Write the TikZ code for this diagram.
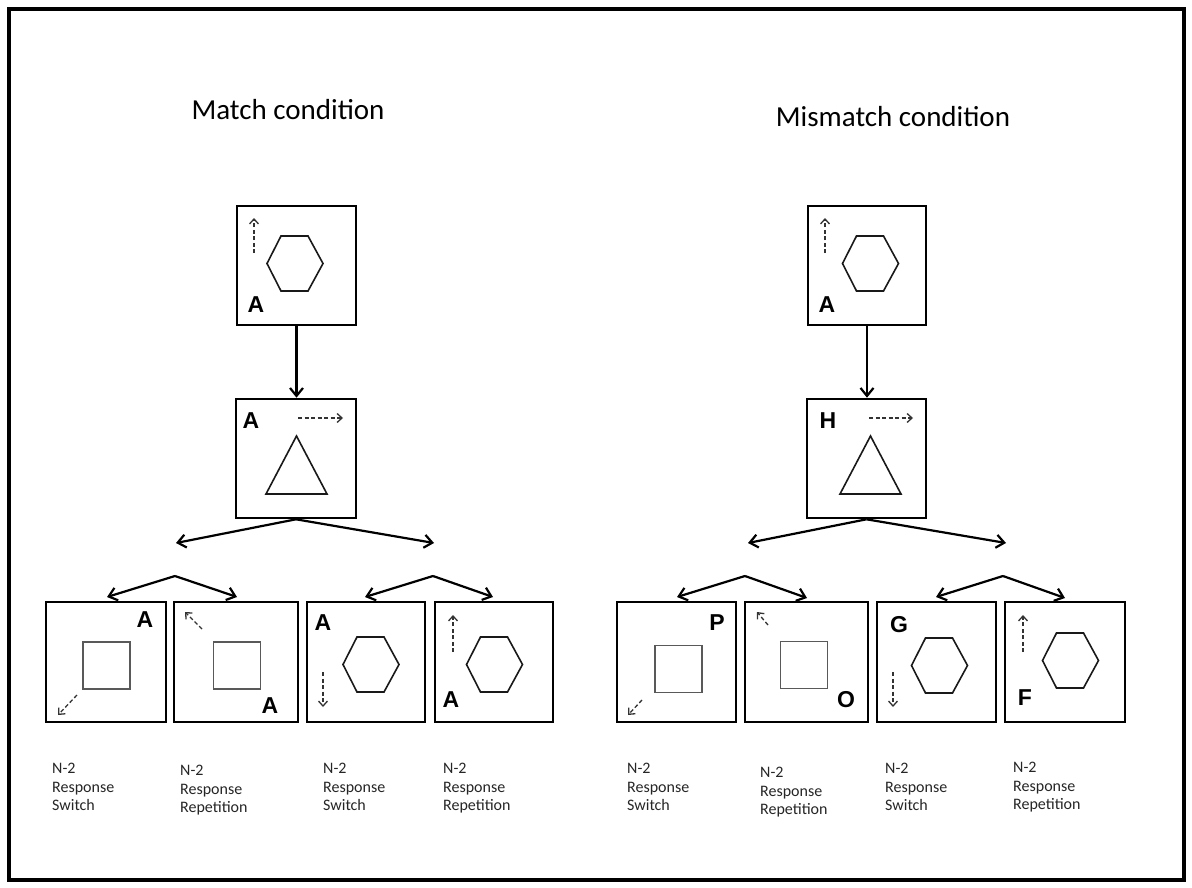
\documentclass[tikz,border=0pt]{standalone}
\usepackage{fontspec}
\setmainfont{Carlito}
\newfontfamily\letterfont{Liberation Sans}
\usetikzlibrary{arrows.meta}

\begin{document}
\begin{tikzpicture}[x=1pt,y=-1pt,
  frame/.style={draw, line width=4pt},
  panel/.style={draw, line width=2.6pt, minimum width=119pt, minimum height=119pt, inner sep=0pt},
  link/.style={line width=2.2pt, -{Straight Barb[length=8pt,width=13pt]}},
  cue/.style={line width=1.3pt, draw=black!80, dash pattern=on 4pt off 2.5pt, -{Straight Barb[length=5pt,width=9pt]}},
  outline/.style={line width=1.6pt, draw=black!90},
  sqline/.style={line width=1.6pt, draw=black!65},
  letter/.style={font=\letterfont\bfseries\fontsize{23}{23}\selectfont, inner sep=0pt},
  title/.style={font=\fontsize{29}{29}\selectfont, anchor=base, inner sep=0pt},
  caption/.style={font=\fontsize{16}{18.5}\selectfont, text=black!85, align=left, anchor=north west, inner sep=0pt},
  hexa/.pic={\draw[outline] (-28,0) -- (-14,-27.5) -- (13,-27.5) -- (28,0) -- (13,27.5) -- (-14,27.5) -- cycle;},
  tri/.pic={\draw[outline] (0,-29) -- (30.5,29) -- (-30.5,29) -- cycle;},
  sq/.pic={\draw[sqline] (-23.5,-23.5) rectangle (23.5,23.5);}
]
% page and outer frame
\fill[white] (0,0) rectangle (1192,888);
\useasboundingbox (0,0) rectangle (1192,888);
\draw[frame] (9,9) rectangle (1184,880);

% titles
\node[title] (titleL) at (288,120) {Match condition};
\node[title] (titleR) at (893,127) {Mismatch condition};

% ---------- match condition ----------
\node[panel] (t1) at (296.5,265.5) {};
\draw[cue] (254,253) -- (254,218);
\pic at (295,263.5) {hexa};
\node[letter] (t1l) at (256,305) {A};

\node[panel, minimum width=120pt] (m1) at (296,458.5) {};
\node[letter] (m1l) at (251,421) {A};
\draw[cue] (298,418) -- (343,418);
\pic at (296.5,465) {tri};

\node[panel, minimum width=120pt, minimum height=120pt] (b1) at (106,662) {};
\node[letter] (b1l) at (145,620) {A};
\pic at (106.5,665.5) {sq};
\draw[cue] (77,695) -- (58,715);

\node[panel, minimum width=124pt, minimum height=120pt] (b2) at (236,662) {};
\draw[cue] (202,629) -- (185,612);
\pic at (237,665.5) {sq};
\node[letter] (b2l) at (270,706) {A};

\node[panel, minimum width=118pt, minimum height=120pt] (b3) at (366,662) {};
\node[letter] (b3l) at (323,623) {A};
\pic at (371,664.5) {hexa};
\draw[cue] (323,672) -- (323,707);

\node[panel, minimum width=118pt, minimum height=120pt] (b4) at (494,662) {};
\draw[cue] (453,652) -- (453,615);
\pic at (494.5,664.5) {hexa};
\node[letter] (b4l) at (451,700) {A};

% connectors, match condition
\draw[link] (t1.south) -- (t1.south |- m1.north);
\coordinate (mL1) at (176,543);
\coordinate (mR1) at (434,543);
\draw[link] (m1.south) -- (mL1);
\draw[link] (m1.south) -- (mR1);
\coordinate (p1) at (175,576);
\coordinate (p1a) at (107,597);
\coordinate (p1b) at (237,597);
\draw[link] (p1) -- (p1a);
\draw[link] (p1) -- (p1b);
\coordinate (p2) at (433,576);
\coordinate (p2a) at (365,597);
\coordinate (p2b) at (493,597);
\draw[link] (p2) -- (p2a);
\draw[link] (p2) -- (p2b);

% ---------- mismatch condition ----------
\node[panel, minimum width=118pt] (t2) at (867,265.5) {};
\draw[cue] (825,253) -- (825,218);
\pic at (870.5,263.5) {hexa};
\node[letter] (t2l) at (827,305) {A};

\node[panel] (m2) at (866.5,458.5) {};
\node[letter] (m2l) at (828,421) {H};
\draw[cue] (869,418) -- (913,418);
\pic at (870.5,465) {tri};

\node[panel, minimum height=120pt] (b5) at (676.5,662) {};
\node[letter] (b5l) at (717,623) {P};
\pic at (678.5,669) {sq};
\draw[cue] (642,700) -- (628,715);

\node[panel, minimum width=123pt, minimum height=120pt] (b6) at (806.5,662) {};
\draw[cue] (768,625) -- (757,612);
\pic at (804,665) {sq};
\node[letter] (b6l) at (846,700) {O};

\node[panel, minimum height=120pt] (b7) at (936.5,662) {};
\node[letter] (b7l) at (899,625) {G};
\pic at (939.5,665.5) {hexa};
\draw[cue] (893,672) -- (893,707);

\node[panel, minimum width=120pt, minimum height=120pt] (b8) at (1065,662) {};
\draw[cue] (1023,652) -- (1023,615);
\pic at (1070.5,660.5) {hexa};
\node[letter] (b8l) at (1025,698) {F};

% connectors, mismatch condition
\draw[link] (t2.south) -- (t2.south |- m2.north);
\coordinate (mL2) at (748,543);
\coordinate (mR2) at (1006,543);
\draw[link] (m2.south) -- (mL2);
\draw[link] (m2.south) -- (mR2);
\coordinate (p3) at (745,576);
\coordinate (p3a) at (677,597);
\coordinate (p3b) at (807,598);
\draw[link] (p3) -- (p3a);
\draw[link] (p3) -- (p3b);
\coordinate (p4) at (1003,576);
\coordinate (p4a) at (936,597);
\coordinate (p4b) at (1065,598);
\draw[link] (p4) -- (p4a);
\draw[link] (p4) -- (p4b);

% captions
\node[caption] (c1) at (52,763) {N-2\\Response\\Switch};
\node[caption] (c2) at (180,765) {N-2\\Response\\Repetition};
\node[caption] (c3) at (323,763) {N-2\\Response\\Switch};
\node[caption] (c4) at (443,763) {N-2\\Response\\Repetition};
\node[caption] (c5) at (627,763) {N-2\\Response\\Switch};
\node[caption] (c6) at (760,767) {N-2\\Response\\Repetition};
\node[caption] (c7) at (885,763) {N-2\\Response\\Switch};
\node[caption] (c8) at (1013,762) {N-2\\Response\\Repetition};
\end{tikzpicture}
\end{document}
